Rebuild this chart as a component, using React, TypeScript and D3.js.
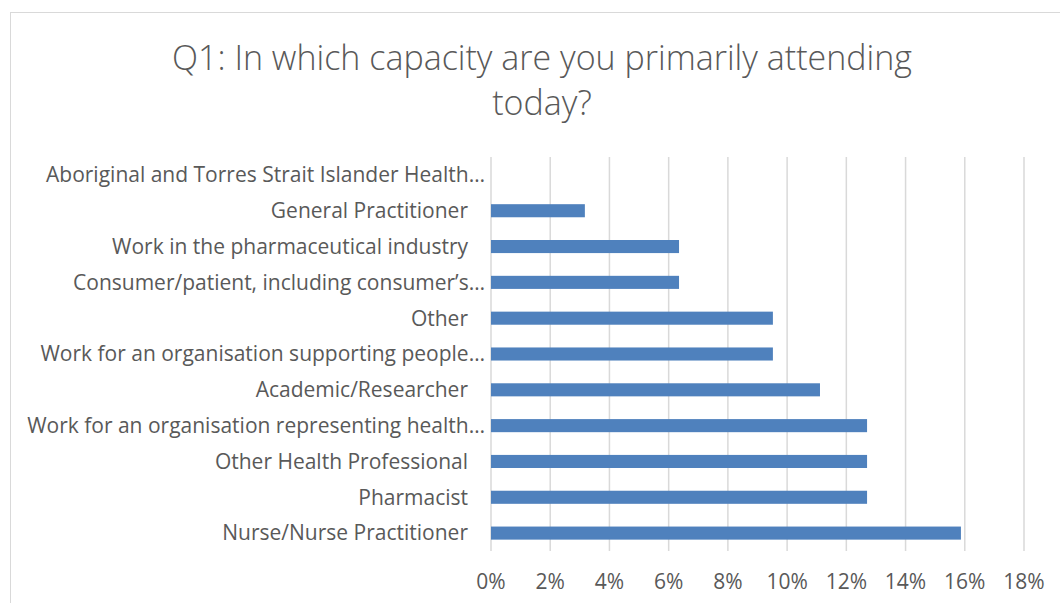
import React from "react";
import * as d3 from "d3";

const categories = [
  "Aboriginal and Torres Strait Islander Health…",
  "General Practitioner",
  "Work in the pharmaceutical industry",
  "Consumer/patient, including consumer’s…",
  "Other",
  "Work for an organisation supporting people…",
  "Academic/Researcher",
  "Work for an organisation representing health…",
  "Other Health Professional",
  "Pharmacist",
  "Nurse/Nurse Practitioner",
];
const values = [0, 0.0317, 0.0635, 0.0635, 0.0952, 0.0952, 0.1111, 0.127, 0.127, 0.127, 0.1587];
const ticks = [0, 0.02, 0.04, 0.06, 0.08, 0.1, 0.12, 0.14, 0.16, 0.18];
const titleLines = ["Q1: In which capacity are you primarily attending", "today?"];

const W = 1060, H = 603;
const FONT = "'Open Sans', 'Liberation Sans', sans-serif";

export default function App() {
  const x = d3.scaleLinear().domain([0, 0.18]).range([491, 1024]);
  const y = d3.scaleBand().domain(categories).range([157, 551]).paddingInner(0.635).paddingOuter(0.3175);
  const fmt = d3.format(".0%");
  return (
    <svg width={W} height={H} style={{ position: "absolute", left: 0, top: 0 }}>
      <rect x={0} y={0} width={W} height={H} fill="#fff" />
      <rect x={10.5} y={12.5} width={1080} height={700} fill="#fff" stroke="#d9d9d9" strokeWidth={1} />
      {titleLines.map((t, i) => (
        <text key={i} x={542} y={70 + i * 45} textAnchor="middle" fontFamily={FONT} fontSize={34} fontWeight={300} fill="#595959">{t}</text>
      ))}
      {ticks.map((t) => (
        <line key={t} x1={x(t)} x2={x(t)} y1={157} y2={551} stroke="#d9d9d9" strokeWidth={1.5} />
      ))}
      {categories.map((c, i) => (
        <g key={c}>
          <rect x={x(0)} y={y(c)!} width={x(values[i]) - x(0)} height={y.bandwidth()} fill="#4f81bd" />
          <text x={c.endsWith("…") ? 485 : 468} y={y(c)! + y.bandwidth() / 2} dy="0.35em" textAnchor="end" fontFamily={FONT} fontSize={21} fill="#595959">{c}</text>
        </g>
      ))}
      {ticks.map((t) => (
        <text key={"l" + t} x={x(t)} y={582} dy="0.35em" textAnchor="middle" fontFamily={FONT} fontSize={21} fill="#595959">{fmt(t)}</text>
      ))}
    </svg>
  );
}
